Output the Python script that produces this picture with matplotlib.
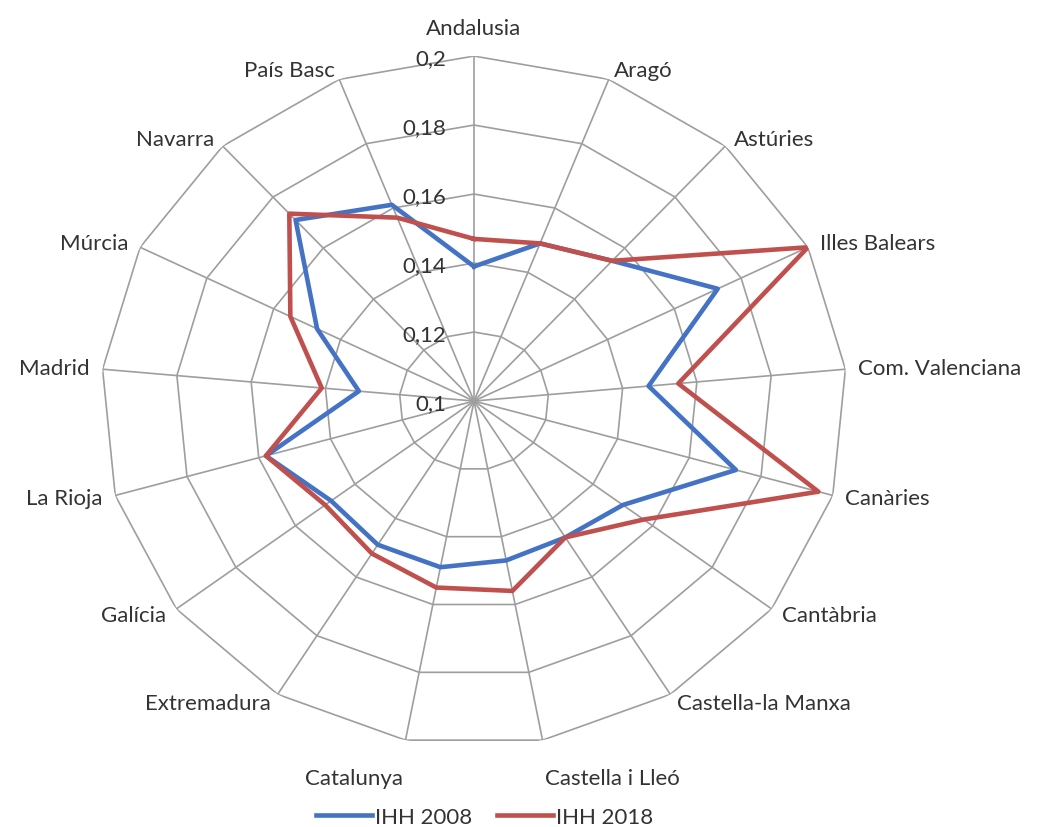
import numpy as np
import matplotlib
matplotlib.use('Agg')
from matplotlib import pyplot as plt

plt.rcParams['font.family'] = ['Lato', 'DejaVu Sans']

# data
categories = ['Andalusia', 'Aragó', 'Astúries', 'Illes Balears', 'Com. Valenciana',
              'Canàries', 'Cantàbria', 'Castella-la Manxa', 'Castella i Lleó',
              'Catalunya', 'Extremadura', 'Galícia', 'La Rioja', 'Madrid',
              'Múrcia', 'Navarra', 'País Basc']
ihh_2008 = [0.139, 0.149, 0.155, 0.173, 0.147, 0.173, 0.150, 0.1465, 0.147,
            0.149, 0.149, 0.148, 0.158, 0.131, 0.147, 0.171, 0.161]
ihh_2018 = [0.147, 0.149, 0.155, 0.200, 0.155, 0.196, 0.157, 0.1465, 0.156,
            0.155, 0.152, 0.150, 0.158, 0.141, 0.155, 0.1735, 0.157]
ring_values = [0.1, 0.12, 0.14, 0.16, 0.18, 0.2]
ring_labels = ['0,1', '0,12', '0,14', '0,16', '0,18', '0,2']
series_names = ['IHH 2008', 'IHH 2018']

blue = '#4472C4'
red = '#C0504D'
grid_col = '#9e9e9e'
text_col = '#333333'

n = len(categories)
angles = np.arange(n) * 2 * np.pi / n
closed = np.append(angles, angles[0])

fig = plt.figure(figsize=(10.38, 8.28), dpi=100)
ax = fig.add_axes([0.0973, 0.0978, 0.7187, 0.8333], projection='polar')
ax.set_aspect('auto')
ax.set_theta_zero_location('N')
ax.set_theta_direction(-1)
ax.set_rlim(0.1, 0.2)
ax.set_xticks([])
ax.set_yticks([])
ax.grid(False)
ax.spines['polar'].set_visible(False)
ax.patch.set_visible(False)

# polygon rings and spokes
for v in ring_values[1:]:
    ax.plot(closed, [v] * (n + 1), color=grid_col, lw=1.2, zorder=1)
for a in angles:
    ax.plot([a, a], [0.1, 0.2], color=grid_col, lw=1.2, zorder=1)

# series
ax.plot(closed, ihh_2008 + ihh_2008[:1], color=blue, lw=3.3,
        solid_joinstyle='round', label=series_names[0], zorder=3)
ax.plot(closed, ihh_2018 + ihh_2018[:1], color=red, lw=3.3,
        solid_joinstyle='round', label=series_names[1], zorder=3)

# ring value labels
for v, lab in zip(ring_values, ring_labels):
    ax.annotate(lab, xy=(0, v), xytext=(-28, -2), textcoords='offset pixels',
                ha='right', va='center', fontsize=16, color=text_col)

# category labels
for a, lab in zip(angles, categories):
    s, c = np.sin(a), np.cos(a)
    if abs(s) < 0.05:
        ha = 'center'
    elif s > 0:
        ha = 'left'
    else:
        ha = 'right'
    if c > 0.95:
        va, off = 'bottom', (0, 18)
    elif c < -0.95:
        va, off = 'top', (0 if ha == 'center' else 2 * np.sign(s), -28)
    else:
        va, off = 'center', (13 * s, 10 * c)
    ax.annotate(lab, xy=(a, 0.2), xytext=off, textcoords='offset pixels',
                ha=ha, va=va, fontsize=16, color=text_col)

fig.legend(loc='center', bbox_to_anchor=(0.467, 0.012), ncol=2, frameon=False,
           fontsize=16, handlelength=2.5, handletextpad=0.15, columnspacing=1.1,
           labelcolor=text_col)

fig.savefig('out.png', dpi=100, facecolor='white')
